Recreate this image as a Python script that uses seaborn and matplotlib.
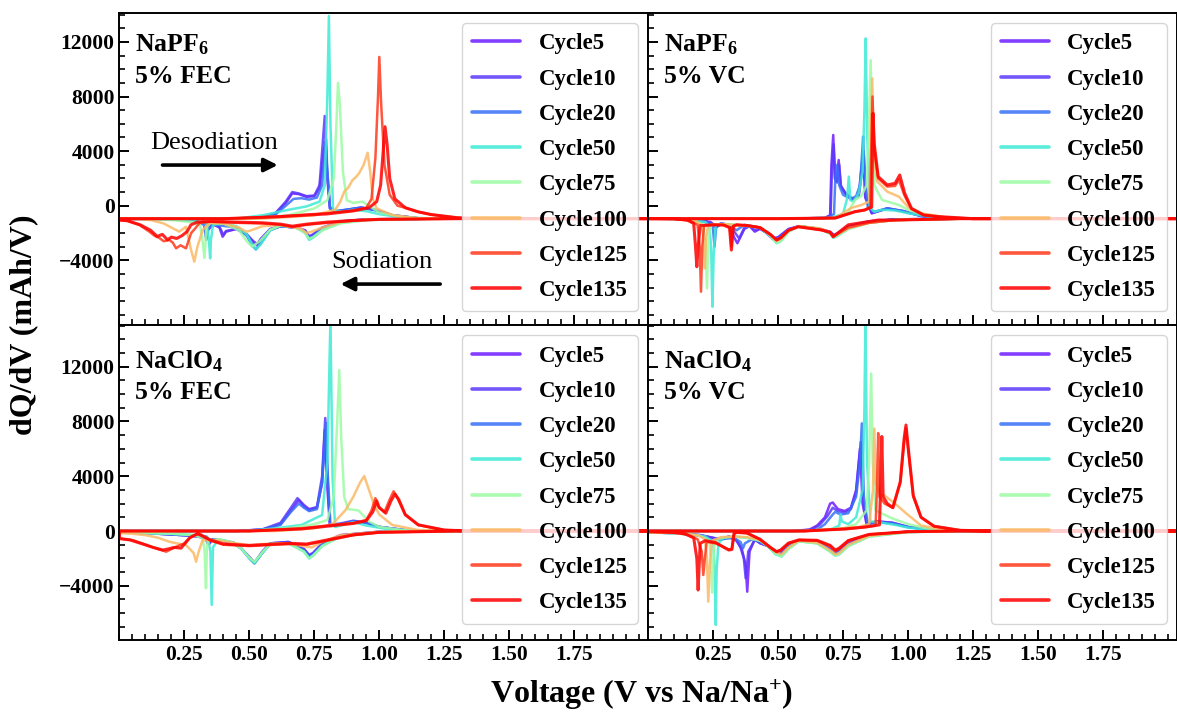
import matplotlib
matplotlib.use("Agg")
import matplotlib.pyplot as plt
from matplotlib.ticker import FixedLocator, MultipleLocator
from matplotlib.font_manager import FontProperties
import numpy as np
import pandas as pd
import seaborn as sns

# ---------------- data (voltage V, dQ/dV mAh/V); each path = discharge (high->low V) then charge (low->high V)
CYCLES = [5, 10, 20, 50, 75, 100, 125, 135]
CYCLE_LABELS = ["Cycle5", "Cycle10", "Cycle20", "Cycle50", "Cycle75", "Cycle100", "Cycle125", "Cycle135"]

# ---- NaPF6 5% FEC
PF6_FEC_C5 = [(2.03,-950),(1.2,-950),(0.95,-1000),(0.85,-1150),(0.78,-1600),(0.745,-2100),(0.73,-2250),(0.715,-1800),(0.68,-1600),(0.62,-1500),(0.58,-1700),(0.545,-2400),(0.53,-2800),(0.515,-2600),(0.49,-2100),(0.45,-1700),(0.41,-1900),(0.397,-2270),(0.385,-1600),(0.36,-1350),(0.34,-1500),(0.33,-1250),(0.30,-1200),(0.25,-1050),(0.15,-980),(0.0,-960),
              (0.0,-950),(0.45,-950),(0.55,-880),(0.60,-600),(0.64,200),(0.665,900),(0.69,850),(0.72,650),(0.75,700),(0.77,1300),(0.785,3800),(0.792,4700),(0.80,2000),(0.81,-200),(0.83,-450),(0.88,-300),(0.93,-150),(0.98,-300),(1.05,-700),(1.15,-920),(1.3,-950),(2.03,-950)]
PF6_FEC_C10 = [(2.03,-950),(1.2,-950),(0.95,-1000),(0.85,-1150),(0.78,-1650),(0.745,-2150),(0.73,-2300),(0.715,-1850),(0.68,-1600),(0.62,-1500),(0.58,-1750),(0.545,-2500),(0.53,-2900),(0.515,-2700),(0.49,-2100),(0.45,-1700),(0.41,-1850),(0.40,-2150),(0.385,-1550),(0.36,-1350),(0.345,-1700),(0.335,-1300),(0.30,-1200),(0.25,-1050),(0.15,-980),(0.0,-960),
               (0.0,-950),(0.45,-950),(0.55,-870),(0.60,-550),(0.64,300),(0.665,1000),(0.69,900),(0.72,700),(0.75,750),(0.77,1500),(0.782,4500),(0.79,6570),(0.798,3000),(0.81,-100),(0.83,-420),(0.88,-280),(0.93,-130),(0.98,-280),(1.05,-690),(1.15,-920),(1.3,-950),(2.03,-950)]
PF6_FEC_C20 = [(2.03,-950),(1.2,-950),(0.95,-1000),(0.85,-1200),(0.78,-1700),(0.745,-2250),(0.73,-2400),(0.715,-1900),(0.68,-1600),(0.62,-1500),(0.58,-1800),(0.545,-2700),(0.525,-3200),(0.51,-2900),(0.49,-2200),(0.45,-1600),(0.41,-1500),(0.37,-1400),(0.345,-1500),(0.334,-2500),(0.325,-1400),(0.30,-1150),(0.25,-1030),(0.15,-970),(0.0,-955),
               (0.0,-950),(0.45,-950),(0.55,-850),(0.60,-650),(0.64,0),(0.67,500),(0.70,550),(0.73,450),(0.76,600),(0.78,1500),(0.788,3500),(0.795,4900),(0.80,2500),(0.81,-200),(0.83,-400),(0.88,-270),(0.93,-140),(0.98,-300),(1.05,-700),(1.15,-920),(1.3,-950),(2.03,-950)]
PF6_FEC_C50 = [(2.03,-950),(1.2,-950),(0.95,-1050),(0.85,-1250),(0.78,-1800),(0.745,-2350),(0.73,-2500),(0.715,-2000),(0.68,-1600),(0.62,-1450),(0.58,-1800),(0.545,-2800),(0.525,-3200),(0.51,-2800),(0.49,-2100),(0.45,-1500),(0.40,-1300),(0.36,-1400),(0.352,-2500),(0.349,-3860),(0.344,-2400),(0.335,-1300),(0.30,-1150),(0.25,-1050),(0.15,-980),(0.0,-955),
               (0.0,-950),(0.45,-950),(0.55,-700),(0.65,-300),(0.72,-50),(0.77,300),(0.79,1500),(0.80,8000),(0.806,13900),(0.812,6000),(0.822,-300),(0.86,-450),(0.90,-300),(0.95,-400),(1.0,-620),(1.1,-880),(1.25,-950),(2.03,-950)]
PF6_FEC_C75 = [(2.03,-950),(1.2,-950),(0.95,-1050),(0.85,-1300),(0.78,-1800),(0.745,-2300),(0.73,-2400),(0.715,-2000),(0.68,-1600),(0.62,-1450),(0.58,-1750),(0.54,-2600),(0.51,-3000),(0.49,-2600),(0.46,-1800),(0.40,-1300),(0.35,-1250),(0.335,-1600),(0.327,-3830),(0.32,-2600),(0.31,-1400),(0.28,-1200),(0.2,-1050),(0.1,-980),(0.0,-955),
               (0.0,-950),(0.5,-950),(0.65,-700),(0.75,-200),(0.80,400),(0.825,2000),(0.835,6000),(0.841,9000),(0.848,7500),(0.86,2500),(0.875,400),(0.90,200),(0.935,300),(0.96,0),(1.0,-500),(1.1,-870),(1.25,-950),(2.03,-950)]
PF6_FEC_C100 = [(2.03,-950),(1.2,-950),(0.95,-1000),(0.85,-1200),(0.78,-1600),(0.74,-1900),(0.72,-2000),(0.70,-1700),(0.62,-1400),(0.55,-1500),(0.50,-1850),(0.487,-1900),(0.46,-1600),(0.40,-1300),(0.346,-1270),(0.32,-1780),(0.30,-3000),(0.288,-4100),(0.275,-3200),(0.256,-1540),(0.23,-1900),(0.205,-1650),(0.17,-1300),(0.12,-1050),(0.05,-970),(0.0,-960),
                (0.0,-950),(0.55,-950),(0.75,-700),(0.83,-300),(0.85,300),(0.865,1030),(0.88,1300),(0.897,1880),(0.91,2100),(0.923,2400),(0.94,3000),(0.955,3880),(0.965,2500),(0.975,500),(0.99,-200),(1.05,-680),(1.15,-920),(1.3,-950),(2.03,-950)]
PF6_FEC_C125 = [(2.03,-950),(1.3,-950),(1.0,-1000),(0.9,-1100),(0.8,-1250),(0.72,-1400),(0.665,-1560),(0.62,-1400),(0.55,-1300),(0.45,-1250),(0.35,-1170),(0.308,-1270),(0.29,-1700),(0.276,-2000),(0.256,-3120),(0.235,-2900),(0.218,-3120),(0.205,-2700),(0.192,-2510),(0.17,-2600),(0.154,-2370),(0.135,-2200),(0.115,-1900),(0.077,-1410),(0.03,-1100),(0.0,-1050),
                (0.0,-950),(0.4,-950),(0.6,-800),(0.8,-550),(0.9,-350),(0.95,-150),(0.97,500),(0.985,3500),(0.995,8000),(1.0,10900),(1.007,7500),(1.02,3000),(1.04,800),(1.07,0),(1.1,-150),(1.15,-450),(1.2,-650),(1.3,-880),(1.4,-950),(2.03,-950)]
PF6_FEC_C135 = [(2.03,-950),(1.3,-950),(1.0,-1000),(0.9,-1080),(0.8,-1200),(0.72,-1350),(0.665,-1500),(0.62,-1350),(0.55,-1250),(0.45,-1200),(0.35,-1150),(0.30,-1200),(0.275,-1400),(0.26,-1900),(0.24,-2200),(0.22,-2400),(0.2,-2300),(0.185,-2500),(0.165,-2100),(0.145,-2250),(0.12,-1800),(0.08,-1400),(0.03,-1100),(0.0,-1050),
                (0.0,-950),(0.4,-950),(0.6,-820),(0.8,-600),(0.9,-380),(0.96,-150),(0.99,300),(1.005,1500),(1.015,4000),(1.022,5790),(1.03,4500),(1.04,2000),(1.06,500),(1.1,-150),(1.15,-450),(1.2,-650),(1.3,-880),(1.4,-950),(2.03,-950)]

# ---- NaPF6 5% VC
PF6_VC_C5 = [(2.03,-950),(1.2,-950),(0.95,-1000),(0.85,-1150),(0.77,-1500),(0.73,-2000),(0.715,-2150),(0.70,-1900),(0.66,-1700),(0.58,-1500),(0.54,-1700),(0.50,-2300),(0.48,-2400),(0.46,-2000),(0.43,-1700),(0.41,-1900),(0.39,-1500),(0.37,-1700),(0.343,-2750),(0.33,-2300),(0.31,-1400),(0.28,-1300),(0.26,-1500),(0.24,-1200),(0.2,-1050),(0.1,-960),(0.0,-950),
             (0.0,-950),(0.5,-950),(0.68,-900),(0.70,-700),(0.705,3000),(0.712,5180),(0.718,2000),(0.725,1800),(0.733,3350),(0.74,1500),(0.76,900),(0.79,420),(0.81,700),(0.822,2500),(0.828,3500),(0.835,600),(0.86,-550),(0.92,-200),(0.98,-400),(1.05,-750),(1.15,-930),(2.03,-950)]
PF6_VC_C10 = [(2.03,-950),(1.2,-950),(0.95,-1000),(0.85,-1150),(0.77,-1550),(0.73,-2050),(0.715,-2200),(0.70,-1950),(0.66,-1700),(0.58,-1500),(0.54,-1750),(0.50,-2350),(0.48,-2450),(0.46,-2050),(0.43,-1650),(0.41,-1800),(0.39,-1450),(0.37,-1600),(0.35,-2400),(0.335,-2000),(0.31,-1400),(0.28,-1350),(0.26,-1600),(0.24,-1250),(0.2,-1050),(0.1,-960),(0.0,-950),
              (0.0,-950),(0.5,-950),(0.68,-900),(0.702,-700),(0.707,2800),(0.714,4500),(0.72,1900),(0.727,1700),(0.735,3000),(0.742,1400),(0.76,850),(0.79,450),(0.81,800),(0.822,3000),(0.829,4000),(0.836,700),(0.86,-550),(0.92,-200),(0.98,-400),(1.05,-750),(1.15,-930),(2.03,-950)]
PF6_VC_C20 = [(2.03,-950),(1.2,-950),(0.95,-1000),(0.85,-1200),(0.77,-1600),(0.73,-2100),(0.712,-2250),(0.70,-2000),(0.66,-1700),(0.58,-1500),(0.54,-1800),(0.50,-2400),(0.49,-2500),(0.46,-2100),(0.43,-1600),(0.40,-1500),(0.37,-1400),(0.34,-1800),(0.31,-1400),(0.28,-1300),(0.262,-1500),(0.255,-3000),(0.248,-1400),(0.22,-1200),(0.18,-1050),(0.1,-960),(0.0,-950),
              (0.0,-950),(0.5,-950),(0.69,-900),(0.715,-600),(0.72,2000),(0.727,3000),(0.735,1500),(0.75,800),(0.78,500),(0.80,700),(0.815,1500),(0.822,3500),(0.827,5060),(0.833,2500),(0.845,-100),(0.87,-450),(0.92,-190),(0.98,-380),(1.05,-740),(1.15,-930),(2.03,-950)]
PF6_VC_C50 = [(2.03,-950),(1.2,-950),(0.95,-1050),(0.85,-1250),(0.77,-1700),(0.73,-2200),(0.712,-2350),(0.70,-2050),(0.66,-1700),(0.58,-1500),(0.54,-1900),(0.51,-2600),(0.494,-2750),(0.47,-2200),(0.43,-1600),(0.38,-1500),(0.33,-1400),(0.29,-1350),(0.26,-1400),(0.252,-3500),(0.247,-7400),(0.242,-3000),(0.235,-1500),(0.22,-1200),(0.18,-1050),(0.1,-960),(0.0,-950),
              (0.0,-950),(0.5,-950),(0.7,-900),(0.75,-600),(0.765,500),(0.772,2130),(0.778,400),(0.79,300),(0.81,900),(0.825,2500),(0.832,7000),(0.837,12260),(0.843,5000),(0.852,-100),(0.87,-440),(0.90,-300),(0.95,-350),(1.0,-550),(1.1,-850),(1.2,-950),(2.03,-950)]
PF6_VC_C75 = [(2.03,-950),(1.2,-950),(0.95,-1050),(0.85,-1250),(0.77,-1700),(0.73,-2150),(0.712,-2300),(0.70,-2000),(0.66,-1700),(0.58,-1500),(0.54,-1900),(0.51,-2600),(0.494,-2700),(0.47,-2200),(0.43,-1600),(0.38,-1450),(0.33,-1400),(0.28,-1350),(0.24,-1400),(0.232,-2500),(0.226,-6050),(0.22,-2500),(0.21,-1400),(0.18,-1100),(0.1,-960),(0.0,-950),
              (0.0,-950),(0.5,-950),(0.72,-900),(0.77,-500),(0.795,420),(0.82,700),(0.84,1500),(0.848,5000),(0.856,10670),(0.862,5000),(0.87,1500),(0.9,420),(0.965,50),(1.0,-300),(1.05,-600),(1.15,-900),(1.25,-950),(2.03,-950)]
PF6_VC_C100 = [(2.03,-950),(1.2,-950),(0.95,-1050),(0.85,-1250),(0.77,-1650),(0.73,-2100),(0.712,-2250),(0.70,-1950),(0.66,-1650),(0.58,-1500),(0.54,-1800),(0.51,-2450),(0.494,-2600),(0.47,-2100),(0.43,-1600),(0.38,-1450),(0.33,-1400),(0.28,-1350),(0.23,-1450),(0.222,-2500),(0.218,-4590),(0.213,-2500),(0.205,-1400),(0.18,-1100),(0.1,-960),(0.0,-950),
               (0.0,-950),(0.5,-950),(0.72,-900),(0.78,-170),(0.82,50),(0.85,300),(0.857,5000),(0.862,9330),(0.868,4000),(0.88,1800),(0.92,1030),(0.965,660),(1.0,-100),(1.05,-550),(1.15,-880),(1.25,-950),(2.03,-950)]
PF6_VC_C125 = [(2.03,-950),(1.2,-950),(0.95,-1050),(0.85,-1250),(0.77,-1600),(0.73,-2050),(0.712,-2250),(0.70,-1950),(0.667,-1780),(0.577,-1540),(0.54,-1800),(0.51,-2350),(0.494,-2510),(0.47,-2100),(0.43,-1600),(0.38,-1450),(0.34,-1400),(0.326,-1500),(0.32,-3000),(0.314,-1600),(0.29,-1400),(0.25,-1400),(0.215,-1450),(0.208,-3000),(0.203,-6300),(0.198,-3000),(0.19,-1400),(0.16,-1100),(0.1,-960),(0.0,-950),
               (0.0,-950),(0.5,-950),(0.72,-900),(0.795,-440),(0.833,-315),(0.855,-100),(0.858,4000),(0.863,8000),(0.87,4000),(0.885,2000),(0.92,1400),(0.95,1450),(0.965,1900),(0.985,800),(1.013,-250),(1.06,-700),(1.12,-820),(1.25,-950),(2.03,-950)]
PF6_VC_C135 = [(2.03,-950),(1.2,-950),(0.95,-1050),(0.885,-1050),(0.77,-1400),(0.73,-2000),(0.712,-2270),(0.70,-1950),(0.667,-1780),(0.577,-1540),(0.54,-1800),(0.51,-2350),(0.494,-2510),(0.47,-2100),(0.43,-1600),(0.38,-1450),(0.34,-1400),(0.328,-1500),(0.32,-3250),(0.313,-1600),(0.29,-1420),(0.25,-1400),(0.20,-1450),(0.192,-3000),(0.187,-4470),(0.182,-3000),(0.175,-1300),(0.15,-1050),(0.1,-960),(0.0,-950),
               (0.0,-950),(0.5,-950),(0.72,-900),(0.795,-440),(0.833,-315),(0.86,-100),(0.863,4000),(0.865,6770),(0.87,4500),(0.885,2130),(0.92,1520),(0.95,1640),(0.968,2250),(0.987,910),(1.013,-190),(1.06,-680),(1.12,-800),(1.25,-950),(2.03,-950)]

# ---- NaClO4 5% FEC
CLO4_FEC_C5 = [(2.03,0),(1.2,0),(1.0,-50),(0.85,-300),(0.78,-900),(0.745,-1600),(0.73,-1750),(0.71,-1300),(0.65,-800),(0.58,-900),(0.55,-1500),(0.52,-2300),(0.50,-1900),(0.47,-1300),(0.44,-900),(0.42,-1000),(0.40,-700),(0.36,-600),(0.34,-900),(0.33,-500),(0.28,-350),(0.2,-250),(0.1,-150),(0.0,-100),
               (0.0,0),(0.45,0),(0.55,100),(0.62,500),(0.66,1500),(0.69,2260),(0.71,1800),(0.73,1530),(0.76,1700),(0.78,3500),(0.79,7370),(0.797,4000),(0.81,400),(0.85,500),(0.9,700),(0.95,600),(1.0,300),(1.1,60),(1.25,0),(2.03,0)]
CLO4_FEC_C10 = [(2.03,0),(1.2,0),(1.0,-50),(0.85,-320),(0.78,-950),(0.745,-1650),(0.73,-1800),(0.71,-1350),(0.65,-800),(0.58,-900),(0.55,-1550),(0.52,-2350),(0.50,-1950),(0.47,-1300),(0.44,-880),(0.423,-1000),(0.40,-700),(0.36,-620),(0.345,-950),(0.335,-500),(0.28,-350),(0.2,-250),(0.1,-150),(0.0,-100),
                (0.0,0),(0.45,0),(0.55,120),(0.62,600),(0.66,1700),(0.685,2400),(0.71,1900),(0.73,1600),(0.76,1750),(0.78,4000),(0.792,8250),(0.799,4500),(0.81,450),(0.85,550),(0.9,750),(0.95,620),(1.0,300),(1.1,60),(1.25,0),(2.03,0)]
CLO4_FEC_C20 = [(2.03,0),(1.2,0),(1.0,-60),(0.85,-350),(0.78,-1000),(0.745,-1700),(0.73,-1850),(0.71,-1400),(0.65,-850),(0.58,-950),(0.55,-1600),(0.519,-2360),(0.50,-2000),(0.47,-1300),(0.44,-850),(0.40,-700),(0.36,-600),(0.346,-660),(0.335,-400),(0.28,-330),(0.2,-250),(0.1,-150),(0.0,-100),
                (0.0,0),(0.45,0),(0.55,100),(0.62,450),(0.66,1400),(0.69,2000),(0.71,1700),(0.73,1450),(0.76,1600),(0.78,3600),(0.795,7900),(0.802,4000),(0.812,400),(0.85,500),(0.9,700),(0.95,600),(1.0,300),(1.1,60),(1.25,0),(2.03,0)]
CLO4_FEC_C50 = [(2.03,0),(1.2,0),(1.0,-80),(0.85,-400),(0.78,-1100),(0.745,-1800),(0.73,-2000),(0.71,-1500),(0.65,-900),(0.58,-950),(0.55,-1600),(0.52,-2350),(0.50,-2000),(0.47,-1300),(0.43,-800),(0.38,-600),(0.36,-1200),(0.355,-5400),(0.35,-1500),(0.34,-500),(0.30,-300),(0.2,-200),(0.1,-150),(0.0,-100),
                (0.0,0),(0.5,0),(0.6,200),(0.7,440),(0.78,1170),(0.80,5000),(0.812,15500),(0.82,4000),(0.83,290),(0.9,650),(0.95,400),(1.05,80),(1.2,0),(2.03,0)]
CLO4_FEC_C75 = [(2.03,0),(1.2,0),(1.0,-80),(0.85,-400),(0.78,-1100),(0.745,-1800),(0.73,-2000),(0.71,-1500),(0.65,-900),(0.58,-950),(0.55,-1550),(0.52,-2250),(0.50,-1950),(0.47,-1300),(0.43,-800),(0.38,-600),(0.34,-700),(0.336,-1500),(0.333,-4180),(0.328,-1500),(0.32,-500),(0.28,-300),(0.2,-200),(0.1,-150),(0.0,-100),
                (0.0,0),(0.5,0),(0.65,200),(0.75,500),(0.8,800),(0.825,2500),(0.838,8000),(0.846,11750),(0.853,7000),(0.865,2500),(0.88,1600),(0.92,1500),(0.96,700),(1.0,300),(1.1,50),(1.25,0),(2.03,0)]
CLO4_FEC_C100 = [(2.03,0),(1.2,0),(1.0,-50),(0.85,-300),(0.78,-800),(0.74,-1200),(0.72,-1150),(0.65,-900),(0.55,-950),(0.5,-1050),(0.45,-900),(0.38,-700),(0.32,-660),(0.305,-1500),(0.295,-2240),(0.285,-1600),(0.256,-1020),(0.22,-900),(0.192,-780),(0.15,-500),(0.1,-300),(0.05,-200),(0.0,-150),
                 (0.0,0),(0.6,0),(0.75,200),(0.82,500),(0.87,1530),(0.9,2500),(0.925,3500),(0.942,4010),(0.955,3300),(0.98,1900),(1.0,1200),(1.05,440),(1.15,70),(1.3,0),(2.03,0)]
CLO4_FEC_C125 = [(2.03,0),(1.3,0),(1.0,-100),(0.9,-300),(0.8,-700),(0.72,-1000),(0.66,-950),(0.6,-1000),(0.5,-1100),(0.4,-1000),(0.35,-700),(0.308,-170),(0.275,-420),(0.25,-900),(0.218,-1150),(0.18,-1510),(0.141,-1270),(0.1,-1000),(0.05,-660),(0.0,-550),
                 (0.0,0),(0.5,0),(0.7,200),(0.85,500),(0.9,580),(0.95,800),(0.97,1500),(0.985,2400),(0.995,1800),(1.02,1390),(1.04,2300),(1.055,2900),(1.07,2400),(1.1,1170),(1.15,440),(1.25,70),(1.35,0),(2.03,0)]
CLO4_FEC_C135 = [(2.03,0),(1.3,0),(1.0,-100),(0.9,-280),(0.8,-650),(0.72,-950),(0.66,-900),(0.6,-950),(0.5,-1050),(0.4,-950),(0.35,-650),(0.30,-200),(0.27,-500),(0.237,-1250),(0.21,-1200),(0.19,-1300),(0.167,-1390),(0.13,-1200),(0.09,-950),(0.04,-650),(0.0,-550),
                 (0.0,0),(0.5,0),(0.7,150),(0.85,450),(0.9,550),(0.95,750),(0.975,1400),(0.99,2200),(1.0,1700),(1.025,1300),(1.045,2200),(1.06,2700),(1.075,2300),(1.1,1200),(1.15,450),(1.25,70),(1.35,0),(2.03,0)]

# ---- NaClO4 5% VC
CLO4_VC_C5 = [(2.03,0),(1.2,0),(1.0,-50),(0.85,-300),(0.77,-900),(0.73,-1500),(0.715,-1600),(0.70,-1300),(0.65,-800),(0.58,-700),(0.54,-1000),(0.51,-1600),(0.49,-1500),(0.46,-1100),(0.43,-900),(0.41,-600),(0.39,-1500),(0.381,-4430),(0.375,-2500),(0.36,-1300),(0.34,-700),(0.31,-400),(0.28,-600),(0.25,-500),(0.2,-300),(0.1,-150),(0.0,-100),
              (0.0,0),(0.55,0),(0.62,100),(0.65,400),(0.68,1000),(0.70,2000),(0.71,2080),(0.73,1600),(0.756,1460),(0.78,1700),(0.80,3000),(0.815,6000),(0.825,2000),(0.84,500),(0.88,700),(0.94,600),(1.0,300),(1.1,50),(1.25,0),(2.03,0)]
CLO4_VC_C10 = [(2.03,0),(1.2,0),(1.0,-50),(0.85,-300),(0.77,-950),(0.73,-1550),(0.715,-1650),(0.70,-1350),(0.65,-800),(0.58,-700),(0.54,-1050),(0.51,-1650),(0.49,-1550),(0.46,-1100),(0.43,-850),(0.41,-650),(0.385,-1500),(0.375,-3450),(0.368,-2000),(0.355,-1200),(0.34,-700),(0.31,-400),(0.28,-650),(0.25,-500),(0.2,-300),(0.1,-150),(0.0,-100),
               (0.0,0),(0.56,0),(0.63,100),(0.66,450),(0.69,1100),(0.71,1700),(0.73,1450),(0.756,1350),(0.78,1600),(0.80,2800),(0.818,6500),(0.827,2200),(0.842,500),(0.88,700),(0.94,600),(1.0,300),(1.1,50),(1.25,0),(2.03,0)]
CLO4_VC_C20 = [(2.03,0),(1.2,0),(1.0,-60),(0.85,-350),(0.77,-1000),(0.73,-1600),(0.715,-1700),(0.70,-1400),(0.65,-800),(0.58,-700),(0.54,-1100),(0.513,-1750),(0.49,-1600),(0.46,-1100),(0.43,-800),(0.40,-600),(0.372,-900),(0.365,-1250),(0.355,-800),(0.33,-500),(0.28,-600),(0.25,-700),(0.2,-350),(0.1,-150),(0.0,-100),
               (0.0,0),(0.58,0),(0.65,100),(0.68,500),(0.71,1200),(0.72,1400),(0.74,1200),(0.77,1300),(0.80,2500),(0.815,5000),(0.822,7860),(0.83,2500),(0.845,500),(0.88,650),(0.94,550),(1.0,280),(1.1,50),(1.25,0),(2.03,0)]
CLO4_VC_C50 = [(2.03,0),(1.2,0),(1.0,-80),(0.85,-400),(0.77,-1100),(0.735,-1700),(0.72,-1800),(0.70,-1500),(0.65,-900),(0.58,-750),(0.54,-1300),(0.513,-1870),(0.49,-1700),(0.46,-1100),(0.43,-700),(0.38,-500),(0.33,-400),(0.29,-500),(0.27,-900),(0.263,-3000),(0.26,-6860),(0.256,-3000),(0.25,-800),(0.22,-400),(0.15,-200),(0.0,-100),
               (0.0,0),(0.6,0),(0.7,100),(0.735,400),(0.74,1200),(0.745,700),(0.77,500),(0.80,1000),(0.825,3000),(0.832,9000),(0.836,15500),(0.842,5000),(0.855,700),(0.9,600),(0.95,450),(1.0,250),(1.1,40),(1.25,0),(2.03,0)]
CLO4_VC_C75 = [(2.03,0),(1.2,0),(1.0,-80),(0.85,-400),(0.77,-1100),(0.735,-1700),(0.72,-1800),(0.70,-1500),(0.65,-900),(0.58,-750),(0.54,-1300),(0.513,-1850),(0.49,-1650),(0.46,-1100),(0.43,-700),(0.38,-500),(0.33,-400),(0.28,-500),(0.255,-800),(0.25,-2500),(0.246,-4500),(0.241,-2000),(0.235,-700),(0.2,-350),(0.1,-150),(0.0,-100),
               (0.0,0),(0.6,0),(0.75,200),(0.8,500),(0.84,1500),(0.85,5000),(0.858,11500),(0.864,5000),(0.875,1500),(0.935,950),(1.0,500),(1.1,80),(1.25,0),(2.03,0)]
CLO4_VC_C100 = [(2.03,0),(1.2,0),(1.0,-70),(0.85,-350),(0.77,-1000),(0.735,-1600),(0.72,-1700),(0.70,-1400),(0.65,-850),(0.58,-700),(0.54,-1200),(0.513,-1700),(0.49,-1550),(0.46,-1050),(0.43,-650),(0.38,-450),(0.33,-400),(0.28,-450),(0.245,-700),(0.237,-2500),(0.231,-5160),(0.226,-2000),(0.218,-600),(0.19,-300),(0.1,-150),(0.0,-100),
                (0.0,0),(0.6,0),(0.76,200),(0.78,300),(0.8,250),(0.85,500),(0.865,3000),(0.87,7480),(0.876,3500),(0.89,2700),(0.91,2580),(0.95,2000),(0.99,1330),(1.05,400),(1.15,50),(1.25,0),(2.03,0)]
CLO4_VC_C125 = [(2.03,0),(1.2,0),(1.0,-50),(0.85,-250),(0.77,-700),(0.735,-1300),(0.72,-1450),(0.70,-1100),(0.65,-700),(0.58,-660),(0.54,-900),(0.51,-1400),(0.494,-1500),(0.47,-1200),(0.43,-600),(0.38,-150),(0.34,-100),(0.33,-200),(0.322,-1300),(0.31,-1350),(0.26,-900),(0.225,-800),(0.218,-2000),(0.212,-3210),(0.206,-1500),(0.19,-600),(0.15,-250),(0.1,-120),(0.0,-50),
                (0.0,0),(0.6,0),(0.76,150),(0.84,300),(0.875,400),(0.88,3000),(0.885,7150),(0.89,2500),(0.91,2000),(0.94,1700),(0.97,3500),(0.985,6500),(0.992,7500),(1.0,6000),(1.02,2500),(1.05,1000),(1.1,350),(1.2,50),(1.3,0),(2.03,0)]
CLO4_VC_C135 = [(2.03,0),(1.2,0),(1.0,-50),(0.85,-250),(0.77,-700),(0.735,-1250),(0.72,-1400),(0.70,-1050),(0.65,-680),(0.58,-650),(0.54,-880),(0.51,-1380),(0.494,-1510),(0.47,-1200),(0.43,-600),(0.38,-150),(0.34,-100),(0.33,-200),(0.322,-1350),(0.31,-1390),(0.26,-850),(0.22,-700),(0.2,-900),(0.196,-2500),(0.192,-4310),(0.187,-2000),(0.175,-500),(0.14,-200),(0.1,-100),(0.0,-50),
                (0.0,0),(0.6,0),(0.76,150),(0.84,300),(0.89,450),(0.894,3000),(0.899,6900),(0.904,2500),(0.92,2000),(0.942,1700),(0.97,3600),(0.985,6800),(0.992,7740),(1.0,6200),(1.02,2600),(1.05,1000),(1.1,350),(1.2,50),(1.3,0),(2.03,0)]

PANEL_TITLES = [("NaPF$_\\mathbf{6}$", "5% FEC"), ("NaPF$_\\mathbf{6}$", "5% VC"),
                ("NaClO$_\\mathbf{4}$", "5% FEC"), ("NaClO$_\\mathbf{4}$", "5% VC")]
PANEL_DATA = [
    [PF6_FEC_C5, PF6_FEC_C10, PF6_FEC_C20, PF6_FEC_C50, PF6_FEC_C75, PF6_FEC_C100, PF6_FEC_C125, PF6_FEC_C135],
    [PF6_VC_C5, PF6_VC_C10, PF6_VC_C20, PF6_VC_C50, PF6_VC_C75, PF6_VC_C100, PF6_VC_C125, PF6_VC_C135],
    [CLO4_FEC_C5, CLO4_FEC_C10, CLO4_FEC_C20, CLO4_FEC_C50, CLO4_FEC_C75, CLO4_FEC_C100, CLO4_FEC_C125, CLO4_FEC_C135],
    [CLO4_VC_C5, CLO4_VC_C10, CLO4_VC_C20, CLO4_VC_C50, CLO4_VC_C75, CLO4_VC_C100, CLO4_VC_C125, CLO4_VC_C135],
]
Y_TICKS = [-4000, 0, 4000, 8000, 12000]
Y_TICK_LABELS = ["\u22124000", "0", "4000", "8000", "12000"]
X_TICKS = [0.25, 0.50, 0.75, 1.00, 1.25, 1.50, 1.75]
X_TICK_LABELS = ["0.25", "0.50", "0.75", "1.00", "1.25", "1.50", "1.75"]

# ---------------- style
sns.set_style("ticks")
SERIF = "Liberation Serif"
plt.rcParams["font.family"] = [SERIF, "DejaVu Serif"]
plt.rcParams["font.weight"] = "bold"
plt.rcParams["mathtext.fontset"] = "custom"
plt.rcParams["mathtext.rm"] = "Liberation Serif:bold"
plt.rcParams["mathtext.bf"] = "Liberation Serif:bold"
plt.rcParams["mathtext.it"] = "Liberation Serif:bold:italic"
plt.rcParams["axes.linewidth"] = 1.4
plt.rcParams["axes.edgecolor"] = "black"
plt.rcParams["text.color"] = "black"
plt.rcParams["axes.labelcolor"] = "black"
plt.rcParams["xtick.color"] = "black"
plt.rcParams["ytick.color"] = "black"

cmap = plt.get_cmap("rainbow")
colors = [cmap(c / 135) for c in CYCLES]

fig = plt.figure(figsize=(11.77, 7.14), dpi=100)
gs = fig.add_gridspec(2, 2, left=0.1015, right=1.0, top=0.9822, bottom=0.1036,
                      wspace=0, hspace=0, height_ratios=[312.3, 315])
axes = [fig.add_subplot(gs[i, j]) for i in range(2) for j in range(2)]
YLIMS = [(-8740, 14140), (-8740, 14140), (-7960, 15040), (-7960, 15040)]

for k, ax in enumerate(axes):
    for ci, (path, lab) in enumerate(zip(PANEL_DATA[k], CYCLE_LABELS)):
        v = [p[0] for p in path]
        q = [p[1] for p in path]
        sns.lineplot(x=v, y=q, ax=ax, sort=False, estimator=None, color=colors[ci],
                     alpha=0.85, lw=2.2 if ci == 7 else 1.8, label=lab, legend=False)
    ax.set_xlim(0, 2.035)
    ax.set_ylim(*YLIMS[k])
    ax.xaxis.set_major_locator(FixedLocator(X_TICKS))
    ax.xaxis.set_minor_locator(MultipleLocator(0.05))
    ax.yaxis.set_major_locator(FixedLocator(Y_TICKS))
    ax.yaxis.set_minor_locator(MultipleLocator(1000))
    ax.tick_params(which="both", direction="in", top=False, right=False,
                   colors="black", labelcolor="black", labelsize=15.5)
    ax.tick_params(which="major", length=7, width=1.4)
    ax.tick_params(which="minor", length=4, width=1.2)
    if k in (0, 2):
        ax.set_yticklabels(Y_TICK_LABELS, fontweight="bold", color="black")
    else:
        ax.set_yticklabels([])
    if k in (2, 3):
        ax.set_xticklabels(X_TICK_LABELS, fontweight="bold", color="black")
    else:
        ax.set_xticklabels([])
    ax.set_xlabel("")
    ax.set_ylabel("")
    for sp in ax.spines.values():
        sp.set_visible(True)
        sp.set_linewidth(1.4)
        sp.set_color("black")

    t1, t2 = PANEL_TITLES[k]
    ytop = 0.897 if k < 2 else 0.885
    ax.text(0.029, ytop, t1, transform=ax.transAxes, ha="left", va="center",
            fontsize=18.5, fontweight="bold", color="black")
    ax.text(0.029, ytop - 0.100, t2, transform=ax.transAxes, ha="left", va="center",
            fontsize=18.5, fontweight="bold", color="black")

    handles, labels = ax.get_legend_handles_labels()
    leg = ax.legend(handles, labels, loc="upper right", borderaxespad=0.45,
                    prop=FontProperties(family=SERIF, weight="bold", size=16.5),
                    labelspacing=0.62, handlelength=2.1, handletextpad=0.8,
                    borderpad=0.45, frameon=True)
    for t in leg.get_texts():
        t.set_color("black")
    for h in leg.get_lines():
        h.set_linewidth(2.6)

# annotations on the first panel
ax0 = axes[0]
ax0.text(0.365, 4590, "Desodiation", ha="center", va="center", fontsize=19,
         fontweight="normal", color="black")
ax0.annotate("", xy=(0.62, 2980), xytext=(0.155, 2980),
             arrowprops=dict(arrowstyle="-|>", lw=2.6, color="black", mutation_scale=20))
ax0.text(1.01, -4120, "Sodiation", ha="center", va="center", fontsize=19,
         fontweight="normal", color="black")
ax0.annotate("", xy=(0.84, -5740), xytext=(1.245, -5740),
             arrowprops=dict(arrowstyle="-|>", lw=2.6, color="black", mutation_scale=20))

fig.text(0.545, 0.027, "Voltage (V vs Na/Na$^{+}$)", ha="center", va="center",
         fontsize=23, fontweight="bold", color="black")
fig.text(0.02, 0.545, "dQ/dV (mAh/V)", ha="center", va="center", rotation=90,
         fontsize=23, fontweight="bold", color="black")

fig.savefig("out.png", dpi=100)
